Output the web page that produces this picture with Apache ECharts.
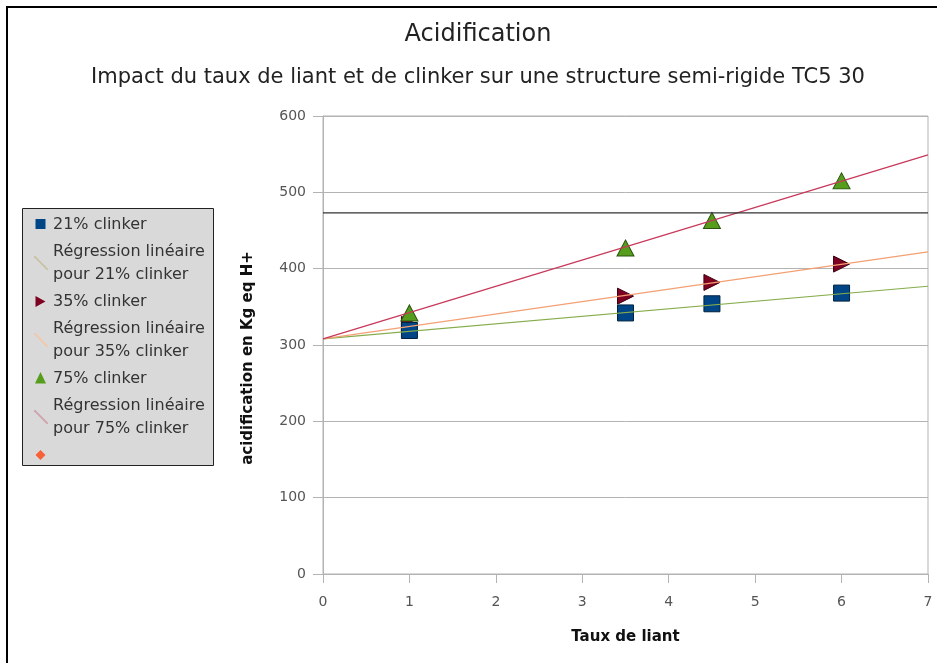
<!DOCTYPE html>
<html>
<head>
<meta charset="utf-8">
<script src="https://cdn.jsdelivr.net/npm/echarts@6/dist/echarts.min.js"></script>
<style>
  html, body { margin: 0; padding: 0; background: #fff; }
  #chart { width: 937px; height: 663px; }
</style>
</head>
<body>
<div id="chart"></div>
<script>
// taux de liant (x) and acidification values
const liant = [1, 3.5, 4.5, 6];
const clinker21 = [319, 342, 354, 368];
const clinker35 = [327, 364, 382, 406];
const clinker75 = [342, 427, 463, 515];
// regression line ends (x = 0 and x = 7)
const regX = [0, 7];
const reg21 = [308, 377];
const reg35 = [308, 422];
const reg75 = [308, 549];
const seuil = 473;
const yTicks = { min: 0, max: 600, step: 100 };
const xTicks = { min: 0, max: 7, step: 1 };

const font = 'DejaVu Sans';
const pairs = (xs, ys) => xs.map((x, i) => [x, ys[i]]);

const names = {
  s21: '21% clinker',
  r21: 'Régression linéaire\npour 21% clinker',
  s35: '35% clinker',
  r35: 'Régression linéaire\npour 35% clinker',
  s75: '75% clinker',
  r75: 'Régression linéaire\npour 75% clinker',
  extra: ' '
};
const colors = {
  s21: '#004586', r21: '#86ad4c',
  s35: '#7e0021', r35: '#f2a074',
  s75: '#579d1c', r75: '#c8385a',
  extra: '#ff420e'
};
const rightTri = 'path://M0,0L10,5L0,10Z';
const diagIcon = 'path://M0,0L1.3,0L14,12.7L14,14L12.7,14L0,1.3Z';
const sqIcon = 'path://M0,0M14,14M1.5,1.5L11.5,1.5L11.5,11.5L1.5,11.5Z';
const rtIcon = 'path://M0,0M14,14M1.5,1.5L11.5,7L1.5,12.5Z';
const triIcon = 'path://M0,0M14,14M6.5,0.5L12,12L1,12Z';
const diaIcon = 'path://M0,0M14,14M6.5,1.5L11.5,6.5L6.5,11.5L1.5,6.5Z';

const chart = echarts.init(document.getElementById('chart'));
const option = {
  backgroundColor: '#fff',
  animation: false,
  textStyle: { fontFamily: font },
  graphic: [
    { type: 'rect', z: -10, shape: { x: 7, y: 7, width: 940, height: 670 },
      style: { fill: 'none', stroke: '#000', lineWidth: 2 } },
    { type: 'rect', z: -5, shape: { x: 22.5, y: 208.5, width: 191, height: 257 },
      style: { fill: '#d9d9d9', stroke: '#222', lineWidth: 1 } },
    { type: 'text', x: 478, y: 35,
      style: { text: 'Acidification', font: '24px "DejaVu Sans"', fill: '#222', align: 'center', verticalAlign: 'middle' } },
    { type: 'text', x: 478, y: 78,
      style: { text: 'Impact du taux de liant et de clinker sur une structure semi-rigide TC5 30', font: '21px "DejaVu Sans"', fill: '#222', align: 'center', verticalAlign: 'middle' } },
    { type: 'text', x: 248, y: 358, rotation: Math.PI / 2,
      style: { text: 'acidification en Kg eq H+', font: 'bold 15px "DejaVu Sans"', fill: '#111', align: 'center', verticalAlign: 'middle' } }
  ],
  legend: {
    orient: 'vertical',
    left: 34,
    top: 213,
    padding: 0,
    itemWidth: 14,
    itemHeight: 14,
    itemGap: 4,
    selectedMode: false,
    textStyle: { fontFamily: font, fontSize: 16, color: '#333', lineHeight: 23 },
    data: [
      { name: names.s21, icon: sqIcon, itemStyle: { color: colors.s21, borderWidth: 0 } },
      { name: names.r21, icon: diagIcon, itemStyle: { color: '#c9c2a4', borderWidth: 0 } },
      { name: names.s35, icon: rtIcon, itemStyle: { color: colors.s35, borderWidth: 0 } },
      { name: names.r35, icon: diagIcon, itemStyle: { color: '#f2c8ac', borderWidth: 0 } },
      { name: names.s75, icon: triIcon, itemStyle: { color: colors.s75, borderWidth: 0 } },
      { name: names.r75, icon: diagIcon, itemStyle: { color: '#cfa2ac', borderWidth: 0 } },
      { name: names.extra, icon: diaIcon, itemStyle: { color: colors.extra, borderWidth: 0 } }
    ]
  },
  grid: {
    left: 323, right: 9, top: 116, bottom: 89,
    show: true, borderColor: '#b3b3b3', borderWidth: 1
  },
  xAxis: {
    type: 'value',
    min: xTicks.min, max: xTicks.max, interval: xTicks.step,
    name: 'Taux de liant',
    nameLocation: 'middle',
    nameGap: 56,
    nameTextStyle: { fontFamily: font, fontSize: 15, fontWeight: 'bold', color: '#111' },
    axisLine: { lineStyle: { color: '#b3b3b3' } },
    axisTick: { show: true, length: 9, lineStyle: { color: '#b3b3b3' } },
    axisLabel: { fontFamily: font, fontSize: 14, color: '#555', margin: 21 },
    splitLine: { show: false }
  },
  yAxis: {
    type: 'value',
    min: yTicks.min, max: yTicks.max, interval: yTicks.step,
    axisLine: { show: true, lineStyle: { color: '#b3b3b3' } },
    axisTick: { show: true, length: 10, lineStyle: { color: '#b3b3b3' } },
    axisLabel: { fontFamily: font, fontSize: 14, color: '#555', margin: 17 },
    splitLine: { show: true, lineStyle: { color: '#b3b3b3', width: 1 } }
  },
  series: [
    {
      name: names.s35, type: 'scatter', z: 2,
      symbol: rightTri, symbolSize: [16, 16],
      itemStyle: { color: colors.s35, borderColor: '#3a0010', borderWidth: 1, opacity: 1 },
      data: pairs(liant, clinker35)
    },
    {
      name: names.s21, type: 'scatter', z: 3,
      symbol: 'rect', symbolSize: 16,
      itemStyle: { color: colors.s21, borderColor: '#00223f', borderWidth: 1, opacity: 1 },
      data: pairs(liant, clinker21)
    },
    {
      name: names.s75, type: 'scatter', z: 4,
      symbol: 'triangle', symbolSize: [17, 16],
      itemStyle: { color: colors.s75, borderColor: '#2c5410', borderWidth: 1, opacity: 1 },
      data: pairs(liant, clinker75)
    },
    {
      name: names.r21, type: 'line', z: 5, symbol: 'none',
      lineStyle: { color: colors.r21, width: 1.2 },
      itemStyle: { color: colors.r21 },
      data: pairs(regX, reg21)
    },
    {
      name: names.r35, type: 'line', z: 5, symbol: 'none',
      lineStyle: { color: colors.r35, width: 1.2 },
      itemStyle: { color: colors.r35 },
      data: pairs(regX, reg35)
    },
    {
      name: names.r75, type: 'line', z: 5, symbol: 'none',
      lineStyle: { color: colors.r75, width: 1.2 },
      itemStyle: { color: colors.r75 },
      data: pairs(regX, reg75)
    },
    {
      name: 'seuil', type: 'line', z: 5, symbol: 'none',
      lineStyle: { color: '#333', width: 1.2 },
      data: pairs(regX, [seuil, seuil])
    },
    {
      name: names.extra, type: 'scatter', symbol: 'diamond',
      itemStyle: { color: colors.extra },
      data: []
    }
  ]
};
chart.setOption(option);
</script>
</body>
</html>
